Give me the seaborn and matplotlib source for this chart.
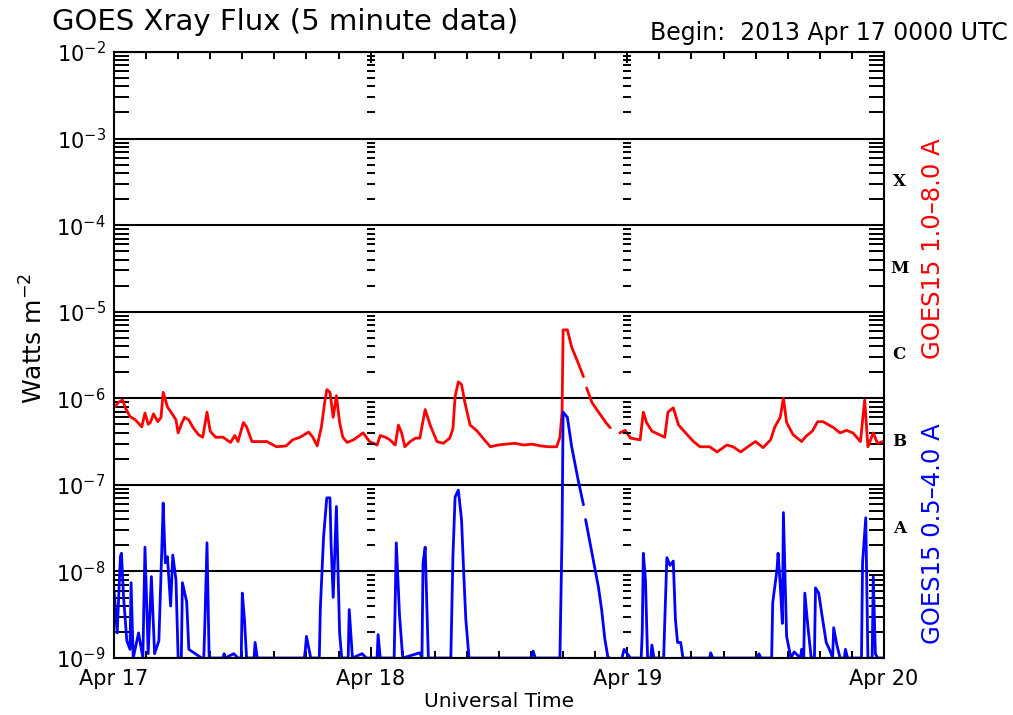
import numpy as np
import pandas as pd
import seaborn as sns
import matplotlib.pyplot as plt
import matplotlib.transforms as mtransforms
from matplotlib.ticker import FixedLocator, MultipleLocator, LogLocator, NullFormatter, LogFormatterSciNotation

# GOES15 long channel (1.0-8.0 A), hours since 2013 Apr 17 00 UTC, log10 flux
red_hours = [0.0, 0.4, 0.8, 1.1, 1.5, 2.0, 2.6, 2.9, 3.2, 3.4, 3.7, 4.1, 4.4, 4.6, 5.0, 5.5, 5.8,
             6.0, 6.3, 6.6, 7.0, 7.4, 7.9, 8.3, 8.7, 9.0, 9.5, 10.2, 10.9, 11.3, 11.6, 12.1, 12.4,
             12.9, 13.6, 14.3, 15.2, 16.1, 16.7, 17.4, 18.2, 18.6, 19.0, 19.4, 19.7, 19.9, 20.2,
             20.5, 20.8, 21.1, 21.4, 21.8, 22.4, 23.3, 23.9, 24.6, 24.9, 25.4, 25.8, 26.3, 26.6,
             26.9, 27.2, 27.7, 28.2, 28.6, 29.1, 29.6, 30.2, 30.8, 31.4, 31.7, 31.9, 32.2, 32.5,
             32.8, 33.3, 33.9, 34.5, 35.2, 35.9, 36.6, 37.5, 38.3, 39.1, 39.9, 40.6, 41.4, 41.7,
             41.9, 42.0, 42.4, 42.8, 43.4, 43.9, 44.0, 44.2, 44.7, 45.2, 45.6, 46.0, 46.4, 46.8,
             47.3, 47.8, 48.3, 49.2, 49.5, 49.8, 50.3, 51.0, 51.5, 51.8, 52.3, 52.8, 53.6, 54.2,
             54.8, 55.7, 56.4, 57.3, 57.9, 58.6, 59.5, 60.0, 60.7, 61.4, 61.8, 62.3, 62.6, 62.9,
             63.5, 64.3, 64.7, 65.3, 65.8, 66.3, 67.3, 67.9, 68.5, 69.1, 69.8, 70.2, 70.5, 71.0,
             71.4, 71.9]
red_log = [-6.11, -6.05, -6.02, -6.12, -6.21, -6.25, -6.33, -6.17, -6.30, -6.28, -6.18, -6.27,
           -6.22, -5.93, -6.10, -6.19, -6.25, -6.40, -6.30, -6.22, -6.25, -6.34, -6.42, -6.45,
           -6.16, -6.38, -6.45, -6.45, -6.51, -6.43, -6.50, -6.28, -6.33, -6.50, -6.50, -6.50,
           -6.56, -6.55, -6.48, -6.45, -6.39, -6.45, -6.55, -6.33, -6.05, -5.90, -5.93, -6.22,
           -5.97, -6.28, -6.45, -6.51, -6.48, -6.40, -6.50, -6.54, -6.43, -6.45, -6.48, -6.54,
           -6.31, -6.40, -6.56, -6.50, -6.46, -6.46, -6.13, -6.32, -6.50, -6.52, -6.46, -6.35,
           -5.98, -5.81, -5.84, -6.04, -6.31, -6.37, -6.46, -6.56, -6.54, -6.53, -6.52, -6.54,
           -6.53, -6.55, -6.56, -6.56, -6.45, -6.16, -5.21, -5.21, -5.41, -5.59, -5.75, np.nan,
           -5.88, -6.05, -6.14, -6.21, -6.28, -6.34, np.nan, -6.40, -6.37, -6.46, -6.48, -6.16,
           -6.28, -6.38, -6.42, -6.45, -6.16, -6.11, -6.31, -6.42, -6.50, -6.56, -6.56, -6.62,
           -6.54, -6.56, -6.62, -6.54, -6.50, -6.57, -6.48, -6.33, -6.22, -6.00, -6.28, -6.42,
           -6.50, -6.44, -6.38, -6.27, -6.27, -6.34, -6.40, -6.37, -6.40, -6.50, -6.02, -6.56,
           -6.40, -6.52, -6.50]

# GOES15 short channel (0.5-4.0 A); -9.0 is the plot floor
blue_hours = [0.0, 0.3, 0.6, 0.7, 0.9, 1.2, 1.5, 1.6, 1.8, 2.3, 2.7, 2.9, 3.2, 3.5, 3.8, 4.2,
              4.5, 4.6, 4.8, 5.0, 5.3, 5.5, 5.8, 6.0, 6.3, 6.4, 6.8, 7.0, 7.6, 8.2, 8.4, 8.5,
              8.7, 8.9, 10.2, 10.3, 10.4, 11.2, 11.6, 11.9, 12.0, 12.2, 12.4, 13.1, 13.2, 13.4,
              17.8, 17.9, 18.0, 18.4, 19.2, 19.3, 19.6, 19.9, 20.2, 20.3, 20.5, 20.8, 21.1, 21.3,
              21.9, 22.0, 22.3, 23.2, 23.6, 24.6, 24.7, 24.9, 26.2, 26.4, 26.7, 27.0, 28.6, 28.8,
              28.9, 29.1, 29.4, 31.5, 31.7, 31.9, 32.2, 32.5, 32.7, 32.9, 33.2, 39.0, 39.2, 39.4,
              41.7, 41.9, 42.0, 42.4, 42.8, 43.4, 43.9, 44.0, 44.1, 44.7, 45.3, 45.6, 45.9, 46.2,
              46.4, 46.8, 47.5, 47.7, 48.0, 48.3, 49.3, 49.4, 49.5, 49.7, 49.9, 50.2, 50.3, 50.5,
              51.4, 51.5, 51.7, 52.0, 52.3, 52.5, 52.7, 53.0, 53.2, 55.7, 55.8, 56.0, 60.2, 60.3,
              60.5, 61.5, 61.6, 62.0, 62.1, 62.3, 62.5, 62.6, 62.8, 62.9, 63.3, 63.6, 64.2, 64.3,
              64.5, 64.6, 64.9, 65.2, 65.5, 65.6, 65.9, 66.2, 66.6, 66.9, 67.2, 67.3, 67.6, 67.9,
              68.3, 68.4, 68.6, 69.9, 70.0, 70.3, 70.5, 70.9, 71.0, 71.2, 71.4, 72.0]
blue_log = [-8.21, -8.71, -7.83, -7.79, -8.30, -8.80, -8.90, -8.13, -9.0, -8.71, -9.0, -7.72,
            -8.95, -8.06, -8.95, -8.80, -7.64, -7.21, -7.90, -7.83, -8.40, -7.81, -8.10, -9.0,
            -9.0, -8.13, -8.35, -8.90, -8.95, -9.0, -9.0, -8.60, -7.67, -9.0, -9.0, -8.95,
            -9.0, -8.95, -9.0, -9.0, -8.25, -8.55, -9.0, -9.0, -8.82, -9.0, -9.0, -8.90,
            -8.75, -9.0, -9.0, -8.42, -7.60, -7.15, -7.15, -7.68, -8.30, -7.25, -8.71, -9.0,
            -9.0, -8.44, -9.0, -8.95, -9.0, -9.0, -8.73, -9.0, -9.0, -7.67, -8.50, -9.0,
            -8.94, -9.0, -7.90, -7.72, -9.0, -9.0, -7.81, -7.14, -7.06, -7.40, -8.00, -8.55,
            -9.0, -9.0, -8.92, -9.0, -9.0, -7.55, -6.16, -6.22, -6.56, -6.94, -7.23, np.nan,
            -7.40, -7.79, -8.18, -8.44, -8.78, -9.0, -9.0, np.nan, -9.0, -8.90, -8.95, -9.0,
            -9.0, -8.70, -7.79, -8.10, -9.0, -9.0, -8.85, -9.0, -9.0, -8.60, -7.84, -7.93,
            -7.88, -8.55, -8.82, -8.82, -9.0, -9.0, -8.94, -9.0, -9.0, -8.95, -9.0, -9.0,
            -8.36, -7.98, -7.79, -8.15, -8.60, -7.32, -8.30, -8.75, -9.0, -8.93, -9.0, -8.90,
            -9.0, -8.25, -8.65, -9.0, -9.0, -8.19, -8.25, -8.50, -8.82, -8.90, -9.0, -8.65,
            -8.85, -9.0, -9.0, -8.90, -9.0, -9.0, -7.90, -7.38, -9.0, -9.0, -8.06, -8.95,
            -9.0, -9.0]

day_ticks = [0, 24, 48, 72]
day_labels = ['Apr 17', 'Apr 18', 'Apr 19', 'Apr 20']
class_labels = ['X', 'M', 'C', 'B', 'A']
class_levels = [-3.5, -4.5, -5.5, -6.5, -7.5]


def to_frame(hours, logs):
    d = pd.DataFrame({'hour': hours, 'logflux': logs})
    d['segment'] = d['logflux'].isna().cumsum()
    d = d.dropna()
    d['flux'] = 10 ** d['logflux']
    return d


red = to_frame(red_hours, red_log)
blue = to_frame(blue_hours, blue_log)

sns.set_style('white')
plt.rcParams['font.family'] = ['DejaVu Sans']
plt.rcParams['mathtext.default'] = 'regular'
for k in ['text.color', 'axes.labelcolor', 'xtick.color', 'ytick.color']:
    plt.rcParams[k] = 'black'

fig = plt.figure(figsize=(10.13, 7.15), dpi=100)
ax = fig.add_axes([0.1125, 0.0797, 0.7601, 0.8476])

sns.lineplot(data=red, x='hour', y='flux', units='segment', estimator=None,
             color='#ff0000', lw=2.0, ax=ax)
sns.lineplot(data=blue, x='hour', y='flux', units='segment', estimator=None,
             color='#0000ff', lw=2.0, ax=ax)

ax.set_yscale('log')
ax.set_ylim(1e-9, 1e-2)
ax.set_xlim(0, 72)

for s in ax.spines.values():
    s.set_linewidth(1.5)
    s.set_color('black')

# decade lines
ax.yaxis.set_major_locator(LogLocator(base=10, numticks=20))
ax.yaxis.set_minor_locator(LogLocator(base=10, subs=np.arange(2, 10), numticks=20))
ax.yaxis.set_major_formatter(LogFormatterSciNotation())
ax.yaxis.set_minor_formatter(NullFormatter())
ax.grid(True, axis='y', which='major', color='black', lw=1.5)
ax.tick_params(axis='y', which='major', length=0, labelsize=15, pad=6, left=True, right=True)
ax.tick_params(axis='y', which='minor', direction='in', length=11, width=1.4,
               left=True, right=True)

ax.xaxis.set_major_locator(FixedLocator(day_ticks))
ax.set_xticklabels(day_labels)
ax.xaxis.set_minor_locator(MultipleLocator(3))
ax.tick_params(axis='x', which='major', direction='in', length=8, width=1.4,
               top=True, bottom=True, labelsize=15, pad=8)
ax.tick_params(axis='x', which='minor', direction='in', length=5, width=1.4,
               top=True, bottom=True)

# dashed day separators made of minor tick marks
minor_y = [m * 10.0 ** e for e in range(-9, -2) for m in range(1, 10)]
for d in day_ticks[1:3]:
    ax.plot([d] * len(minor_y), minor_y, ls='none', marker='_', ms=6, mew=1.4,
            color='black', clip_on=False)

ax.set_xlabel('Universal Time', fontsize=14.5, labelpad=2)
ax.set_ylabel('Watts m$^{-2}$', fontsize=18)
ax.yaxis.set_label_coords(-0.086, 0.528)

trans = mtransforms.blended_transform_factory(ax.transAxes, ax.transData)
for lab, lev in zip(class_labels, class_levels):
    ax.text(1.02, 10 ** lev, lab, transform=trans, ha='center', va='center',
            fontsize=12, fontweight='bold', family='DejaVu Serif')

fig.text(0.921, 0.652, 'GOES15 1.0\u20138.0 A', color='#ff0000', rotation=90,
         ha='center', va='center', fontsize=17.5)
fig.text(0.921, 0.254, 'GOES15 0.5\u20134.0 A', color='#0000ff', rotation=90,
         ha='center', va='center', fontsize=17.5)

fig.text(0.051, 0.969, 'GOES Xray Flux (5 minute data)', fontsize=21, ha='left', va='center')
fig.text(0.995, 0.954, 'Begin:  2013 Apr 17 0000 UTC', fontsize=17, ha='right', va='center')

fig.savefig('out.png', dpi=100, facecolor='white')
